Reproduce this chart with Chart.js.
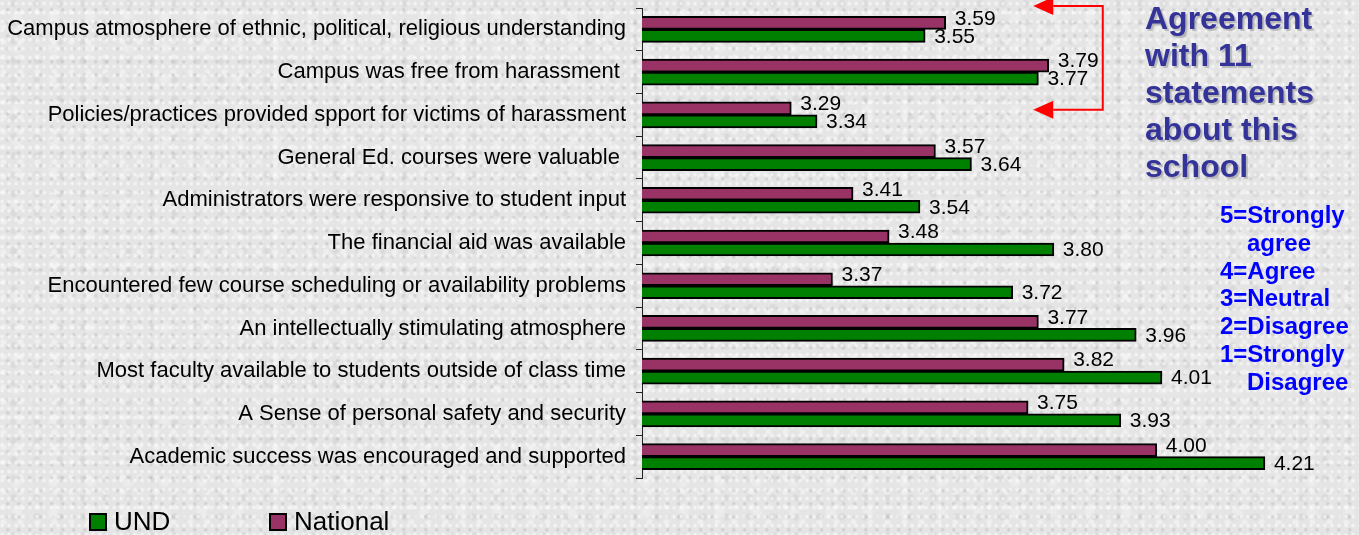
<!DOCTYPE html>
<html>
<head>
<meta charset="utf-8">
<script src="https://cdn.jsdelivr.net/npm/chart.js@4.4.1/dist/chart.umd.min.js"></script>
<style>
	html, body {
		margin: 0;
		padding: 0;
	}
	body {
		width: 1359px;
		height: 535px;
		overflow: hidden;
		position: relative;
		font-family: "Liberation Sans", Arial, sans-serif;
		background-color: #e5e5e5;
		background-image:
			radial-gradient(circle at 30% 40%, rgba(255, 255, 255, 0.55) 0 1px, transparent 2.5px),
			radial-gradient(circle at 70% 75%, rgba(175, 175, 175, 0.35) 0 1px, transparent 2.5px),
			radial-gradient(ellipse at 20% 80%, rgba(250, 250, 250, 0.5) 0 2px, transparent 4px),
			radial-gradient(ellipse at 60% 20%, rgba(195, 195, 195, 0.35) 0 2px, transparent 4.5px),
			radial-gradient(circle at 45% 55%, rgba(245, 245, 245, 0.45) 0 3px, transparent 7px);
		background-size: 7px 9px, 11px 13px, 17px 15px, 23px 19px, 37px 31px;
	}
	#wrap {
		position: absolute;
		left: 0;
		top: 0;
		width: 1359px;
		height: 535px;
	}
	.title {
		position: absolute;
		left: 1145px;
		top: 0px;
		color: #333399;
		font-weight: bold;
		font-size: 32px;
		line-height: 37px;
		text-shadow: 2px 2px 1px rgba(150, 150, 150, 0.6);
	}
	.scale-key {
		position: absolute;
		left: 1220px;
		top: 201px;
		color: #0000ff;
		font-weight: bold;
		font-size: 24px;
		line-height: 27.8px;
		white-space: nowrap;
	}
	.scale-key .in {
		padding-left: 27px;
	}
	#legend {
		position: absolute;
		left: 89px;
		top: 507px;
		font-size: 26px;
		line-height: 28px;
		color: #000;
	}
	#legend span.item {
		position: absolute;
		top: 0;
		white-space: nowrap;
	}
	#legend span.box {
		display: inline-block;
		box-sizing: border-box;
		width: 18px;
		height: 18px;
		border: 2px solid #000;
		margin-right: 7px;
		vertical-align: -1px;
	}
</style>
</head>
<body>
<div id="wrap"><canvas id="chart"></canvas></div>
<div class="title">Agreement<br>with 11<br>statements<br>about this<br>school</div>
<div class="scale-key">
	<div>5=Strongly</div>
	<div class="in">agree</div>
	<div>4=Agree</div>
	<div>3=Neutral</div>
	<div>2=Disagree</div>
	<div>1=Strongly</div>
	<div class="in">Disagree</div>
</div>
<div id="legend"></div>
<script>
	const CATEGORIES = [
		"Campus atmosphere of ethnic, political, religious understanding",
		"Campus was free from harassment ",
		"Policies/practices provided spport for victims of harassment",
		"General Ed. courses were valuable ",
		"Administrators were responsive to student input",
		"The financial aid was available",
		"Encountered few course scheduling or availability problems",
		"An intellectually stimulating atmosphere",
		"Most faculty available to students outside of class time",
		"A Sense of personal safety and security",
		"Academic success was encouraged and supported",
	];
	const NATIONAL = [3.59, 3.79, 3.29, 3.57, 3.41, 3.48, 3.37, 3.77, 3.82, 3.75, 4.0];
	const UND = [3.55, 3.77, 3.34, 3.64, 3.54, 3.8, 3.72, 3.96, 4.01, 3.93, 4.21];

	const COLORS = {
		GREEN: "#008000",
		PURPLE: "#993366",
		BLACK: "#000000",
		RED: "#ff0000",
	};
	const FONT = "Liberation Sans, Arial, sans-serif";

	// value labels at the end of each bar
	const valueLabels = {
		id: "valueLabels",
		afterDatasetsDraw(chart) {
			const { ctx } = chart;
			ctx.save();
			ctx.font = "21px " + FONT;
			ctx.fillStyle = COLORS.BLACK;
			ctx.textAlign = "left";
			ctx.textBaseline = "middle";
			chart.data.datasets.forEach((ds, di) => {
				const meta = chart.getDatasetMeta(di);
				meta.data.forEach((bar, i) => {
					const dy = di === 0 ? -4 : 1;
					ctx.fillText(ds.data[i].toFixed(2), bar.x + 9, bar.y + dy);
				});
			});
			ctx.restore();
		},
	};

	// red bracket with two arrows next to the top rows
	const bracket = {
		id: "bracket",
		afterDraw(chart) {
			const { ctx } = chart;
			const y = chart.scales.y;
			const xs = chart.scales.x;
			const xRight = xs.getPixelForValue(3.895);
			const xTip = xs.getPixelForValue(3.76);
			const xHead = xTip + 20;
			const yTop = y.top - 2;
			const yBot = y.getPixelForValue(2) - 5;
			ctx.save();
			ctx.strokeStyle = COLORS.RED;
			ctx.fillStyle = COLORS.RED;
			ctx.lineWidth = 2;
			ctx.beginPath();
			ctx.moveTo(xHead, yTop);
			ctx.lineTo(xRight, yTop);
			ctx.lineTo(xRight, yBot);
			ctx.lineTo(xHead, yBot);
			ctx.stroke();
			[yTop, yBot].forEach((yy) => {
				ctx.beginPath();
				ctx.moveTo(xTip, yy);
				ctx.lineTo(xHead, yy - 9);
				ctx.lineTo(xHead, yy + 9);
				ctx.closePath();
				ctx.fill();
			});
			ctx.restore();
		},
	};

	const CHART_DATA = {
		labels: CATEGORIES,
		datasets: [
			{
				label: "National",
				data: NATIONAL,
				backgroundColor: COLORS.PURPLE,
				borderColor: COLORS.BLACK,
				borderWidth: 2,
				borderSkipped: false,
				barThickness: 13,
			},
			{
				label: "UND",
				data: UND,
				backgroundColor: COLORS.GREEN,
				borderColor: COLORS.BLACK,
				borderWidth: 2,
				borderSkipped: false,
				barThickness: 13,
			},
		],
	};

	const CHART_CONFIG = {
		type: "bar",
		data: CHART_DATA,
		plugins: [valueLabels, bracket],
		options: {
			indexAxis: "y",
			responsive: true,
			maintainAspectRatio: false,
			animation: false,
			layout: {
				padding: { left: 0, right: 22, top: 8, bottom: 57 },
			},
			plugins: {
				legend: { display: false },
				title: { display: false },
				tooltip: { enabled: false },
			},
			scales: {
				x: {
					display: false,
					min: 3,
					max: 4.35,
				},
				y: {
					afterFit: (scale) => {
						scale.width = 642;
						scale.paddingTop = 0;
						scale.paddingBottom = 0;
					},
					border: {
						display: true,
						color: "#222",
						width: 1,
					},
					grid: {
						offset: true,
						drawOnChartArea: false,
						drawTicks: true,
						tickLength: 6,
						color: "#222",
					},
					ticks: {
						padding: 10,
						color: COLORS.BLACK,
						font: { family: FONT, size: 22 },
					},
				},
			},
		},
	};

	new Chart(document.getElementById("chart"), CHART_CONFIG);

	// legend (UND first, as in the reference)
	const LEGEND = document.getElementById("legend");
	[
		{ label: "UND", color: COLORS.GREEN, left: 0 },
		{ label: "National", color: COLORS.PURPLE, left: 180 },
	].forEach((it) => {
		const s = document.createElement("span");
		s.className = "item";
		s.style.left = it.left + "px";
		s.innerHTML = '<span class="box" style="background:' + it.color + '"></span>' + it.label;
		LEGEND.appendChild(s);
	});
</script>
</body>
</html>
